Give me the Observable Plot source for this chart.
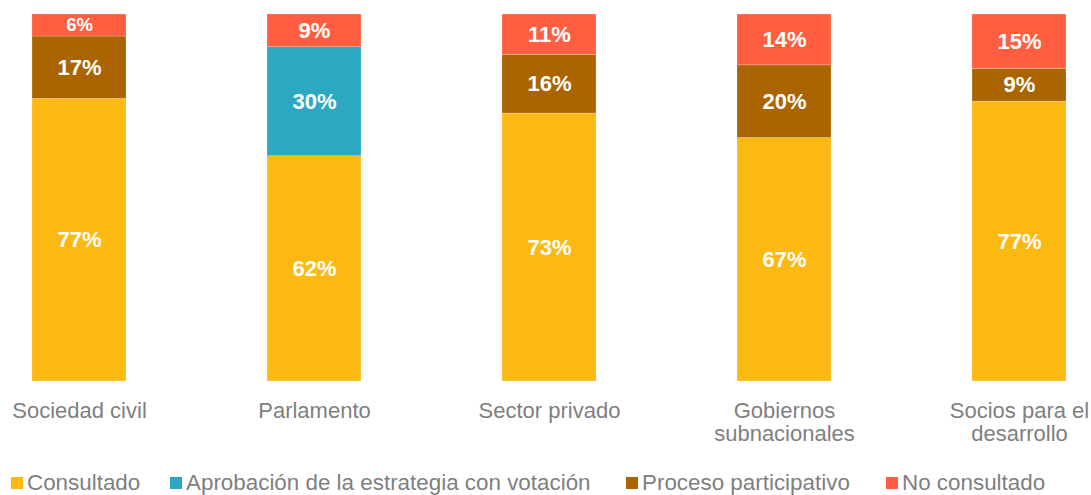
<!DOCTYPE html>
<html>
<head>
<meta charset="utf-8">
<script src="https://cdn.jsdelivr.net/npm/d3@7"></script>
<script src="https://cdn.jsdelivr.net/npm/@observablehq/plot@0.6"></script>
<style>
  html, body { margin: 0; padding: 0; background: #fff; }
  body { width: 1091px; height: 495px; overflow: hidden; font-family: "Liberation Sans", Arial, sans-serif; position: relative; }
  #legend { position: relative; height: 30px; font-size: 22.4px; color: #7f7f7f; margin-top: 6px; white-space: nowrap; }
  .item { position: absolute; top: 0; height: 30px; display: flex; align-items: center; }
  .sw { width: 12px; height: 12px; margin-right: 4px; display: inline-block; }
</style>
</head>
<body>
<div id="chart"></div>
<div id="legend"></div>
<script>
const categories = ["Sociedad civil", "Parlamento", "Sector privado", "Gobiernos subnacionales", "Socios para el desarrollo"];
const categoryLabels = ["Sociedad civil", "Parlamento", "Sector privado", "Gobiernos\nsubnacionales", "Socios para el\ndesarrollo"];
const series = ["Consultado", "Aprobación de la estrategia con votación", "Proceso participativo", "No consultado"];
const colors = ["#FDB913", "#2CA8C2", "#AA6500", "#FF5F40"];
const consultado = [77, 62, 73, 67, 77];
const aprobacion = [0, 30, 0, 0, 0];
const proceso = [17, 0, 16, 20, 9];
const noConsultado = [6, 9, 11, 14, 15];

const seriesValues = [consultado, aprobacion, proceso, noConsultado];
const data = [];
categories.forEach((c, i) => {
  series.forEach((s, j) => {
    const v = seriesValues[j][i];
    if (v > 0) data.push({category: c, serie: s, value: v});
  });
});

const chart = Plot.plot({
  width: 1091,
  height: 462,
  marginTop: 14,
  marginBottom: 81,
  marginLeft: 0,
  marginRight: 0,
  x: {domain: categories, range: [7.5, 1089.6], paddingInner: 0.6, paddingOuter: 0.1, label: null},
  y: {axis: null, domain: [0, 1]},
  color: {domain: series, range: colors},
  style: {fontFamily: "'Liberation Sans', Arial, sans-serif", background: "#fff"},
  marks: [
    Plot.barY(data, Plot.stackY({x: "category", y: "value", z: "serie", order: series, offset: "normalize", fill: "serie", stroke: "#fff", strokeOpacity: 0.35, strokeWidth: 0.6})),
    Plot.text(data, Plot.stackY({x: "category", y: "value", z: "serie", order: series, offset: "normalize",
      text: d => d.value + "%", fill: "#fff", fontWeight: "bold",
      fontSize: d => d.value < 7 ? 18.5 : 22})),
    Plot.axisX({tickSize: 0, tickPadding: 20, fontSize: 22, lineHeight: 1.05, fill: "#7f7f7f",
      tickFormat: d => categoryLabels[categories.indexOf(d)]})
  ]
});
document.getElementById("chart").appendChild(chart);

const legendLeft = [11, 170, 626, 886];
const legend = document.getElementById("legend");
series.forEach((s, i) => {
  const it = document.createElement("div");
  it.className = "item";
  it.style.left = legendLeft[i] + "px";
  const sw = document.createElement("span");
  sw.className = "sw";
  sw.style.background = colors[i];
  it.appendChild(sw);
  it.appendChild(document.createTextNode(s));
  legend.appendChild(it);
});
</script>
</body>
</html>
